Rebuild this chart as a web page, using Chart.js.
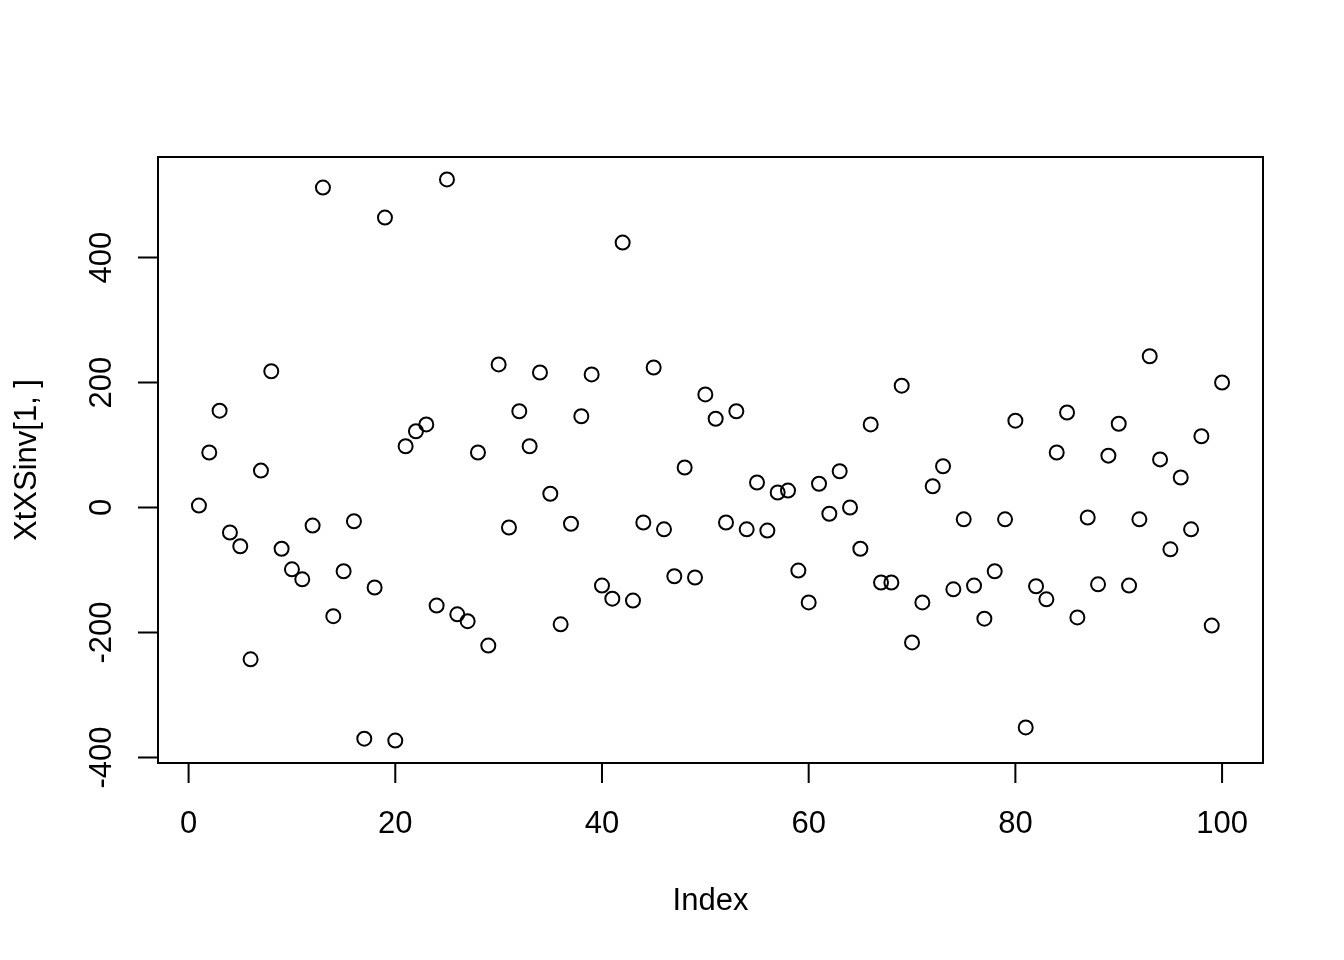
<!DOCTYPE html>
<html>
<head>
<meta charset="utf-8">
<script src="https://cdn.jsdelivr.net/npm/chart.js@4"></script>
<style>
  body { margin: 0; background: #fff; }
  #myChart { display: block; }
</style>
</head>
<body>
<canvas id="myChart" width="1344" height="960" style="width:1344px;height:960px"></canvas>
<script>
// valores de XtXSinv[1, ] por indice
const indices = [];
for (let i = 1; i <= 100; i++) indices.push(i);

const values = [
    3, 88, 155, -40, -62, -243, 59, 218, -66, -99,
    -115, -29, 512, -174, -102, -22, -370, -128, 464, -373,
    98, 122, 133, -157, 525, -171, -182, 88, -221, 229,
    -32, 154, 98, 216, 22, -187, -26, 146, 213, -125,
    -146, 424, -149, -24, 224, -35, -110, 64, -112, 181,
    142, -24, 154, -35, 40, -37, 24, 27, -101, -152,
    38, -10, 58, 0, -66, 133, -120, -120, 195, -216,
    -152, 34, 66, -131, -19, -125, -178, -102, -19, 139,
    -352, -126, -147, 88, 152, -176, -16, -123, 83, 134,
    -125, -19, 242, 77, -67, 48, -35, 114, -189, 200
];

const xTicks = [0, 20, 40, 60, 80, 100];
const yTicks = [-400, -200, 0, 200, 400];
const xTitle = 'Index';
const yTitle = 'XtXSinv[1, ]';

// limites como no R (4% a mais de cada lado)
const xMinD = Math.min(...indices), xMaxD = Math.max(...indices);
const yMinD = Math.min(...values), yMaxD = Math.max(...values);
const xPad = (xMaxD - xMinD) * 0.04, yPad = (yMaxD - yMinD) * 0.04;

const font = '31px "Liberation Sans", Arial, Helvetica, sans-serif';

// desenha caixa, eixos e textos no estilo do plot base do R
const rAxes = {
    id: 'rAxes',
    afterDraw(chart) {
        const c = chart.ctx;
        const a = chart.chartArea;
        const sx = chart.scales.x, sy = chart.scales.y;
        c.save();
        c.strokeStyle = '#000';
        c.fillStyle = '#000';
        c.lineWidth = 2;
        c.strokeRect(a.left, a.top, a.right - a.left, a.bottom - a.top);

        // eixo x
        c.beginPath();
        c.moveTo(sx.getPixelForValue(xTicks[0]), a.bottom);
        c.lineTo(sx.getPixelForValue(xTicks[xTicks.length - 1]), a.bottom);
        xTicks.forEach(t => {
            const px = sx.getPixelForValue(t);
            c.moveTo(px, a.bottom);
            c.lineTo(px, a.bottom + 20);
        });
        // eixo y
        c.moveTo(a.left, sy.getPixelForValue(yTicks[0]));
        c.lineTo(a.left, sy.getPixelForValue(yTicks[yTicks.length - 1]));
        yTicks.forEach(t => {
            const py = sy.getPixelForValue(t);
            c.moveTo(a.left, py);
            c.lineTo(a.left - 20, py);
        });
        c.stroke();

        c.font = font;
        c.textAlign = 'center';
        c.textBaseline = 'middle';
        xTicks.forEach(t => c.fillText(String(t), sx.getPixelForValue(t), a.bottom + 61));
        c.fillText(xTitle, (a.left + a.right) / 2, a.bottom + 138);

        yTicks.forEach(t => {
            c.save();
            c.translate(a.left - 56, sy.getPixelForValue(t));
            c.rotate(-Math.PI / 2);
            c.fillText(String(t), 0, 0);
            c.restore();
        });
        c.save();
        c.translate(a.left - 131, (a.top + a.bottom) / 2);
        c.rotate(-Math.PI / 2);
        c.fillText(yTitle, 0, 0);
        c.restore();
        c.restore();
    }
};

const ctx = document.getElementById('myChart');

new Chart(ctx, {
    type: 'scatter',
    data: {
        datasets: [{
            data: indices.map((x, i) => ({ x: x, y: values[i] })),
            pointStyle: 'circle',
            pointRadius: 7,
            pointHoverRadius: 7,
            pointBorderWidth: 2,
            pointBorderColor: '#000',
            pointBackgroundColor: 'rgba(0,0,0,0)'
        }]
    },
    options: {
        responsive: false,
        animation: false,
        devicePixelRatio: 1,
        layout: {
            padding: { left: 158, right: 81, top: 157, bottom: 197 }
        },
        plugins: {
            legend: { display: false },
            tooltip: { enabled: false }
        },
        scales: {
            x: { type: 'linear', display: false, min: xMinD - xPad, max: xMaxD + xPad },
            y: { type: 'linear', display: false, min: yMinD - yPad, max: yMaxD + yPad }
        }
    },
    plugins: [rAxes]
});
</script>
</body>
</html>
